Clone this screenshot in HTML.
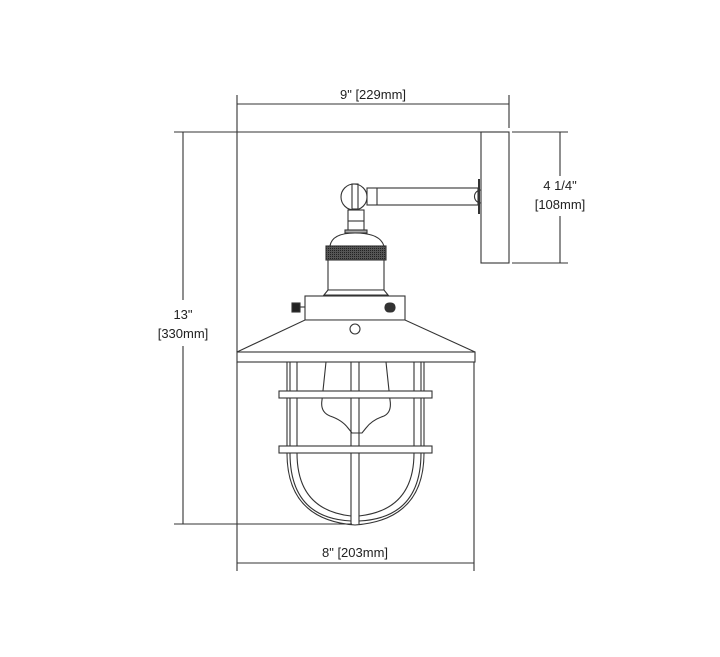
<!DOCTYPE html>
<html><head><style>body{margin:0;background:#fff}svg{display:block}text{font-family:"Liberation Sans",sans-serif;font-size:13px;fill:#222}</style></head>
<body>
<svg width="720" height="657" viewBox="0 0 720 657" xmlns="http://www.w3.org/2000/svg">
<defs><pattern id="kn" width="2" height="2" patternUnits="userSpaceOnUse"><rect width="2" height="2" fill="#555"/><rect width="1" height="1" fill="#222"/></pattern></defs>
<g stroke="#333" stroke-width="1.1" fill="none">
<!-- dimension lines -->
<line x1="237" y1="95" x2="237" y2="352"/>
<line x1="237" y1="362" x2="237" y2="571"/>
<line x1="509" y1="95" x2="509" y2="128"/>
<line x1="237" y1="104" x2="509" y2="104"/>
<line x1="174" y1="132" x2="485" y2="132"/>
<line x1="183" y1="132" x2="183" y2="300"/>
<line x1="183" y1="346" x2="183" y2="524"/>
<line x1="174" y1="524" x2="352" y2="524"/>
<line x1="512" y1="132" x2="568" y2="132"/>
<line x1="512" y1="263" x2="568" y2="263"/>
<line x1="560" y1="132" x2="560" y2="176"/>
<line x1="560" y1="216" x2="560" y2="263"/>
<line x1="474" y1="362" x2="474" y2="571"/>
<line x1="237" y1="563" x2="474" y2="563"/>
<!-- backplate -->
<rect x="481" y="132" width="28" height="131" fill="#fff"/>
<!-- arm -->
<rect x="367" y="188" width="111" height="17" fill="#fff"/>
<line x1="377" y1="188" x2="377" y2="205"/>
<path d="M481 190 A6 6 0 0 0 481 203" />
<line x1="479" y1="179" x2="479" y2="214" stroke-width="2"/>
<circle cx="354" cy="197" r="13" fill="#fff"/>
<rect x="352" y="184" width="6" height="25"/>
<rect x="348" y="210" width="16" height="22" fill="#fff"/>
<line x1="348" y1="221" x2="364" y2="221"/>
<rect x="345" y="230" width="22" height="3" fill="#aaa"/>
<!-- socket -->
<path d="M330 246 Q332 233 355 233 Q380 233 384 246Z" fill="#fff"/>
<rect x="326" y="246" width="60" height="14" fill="url(#kn)"/>
<rect x="328" y="260" width="56" height="30" fill="#fff"/>
<path d="M328 290 L324 295 L388 295 L384 290Z" fill="#fff"/>
<!-- collar -->
<rect x="305" y="296" width="100" height="24" fill="#fff"/>
<rect x="292" y="303" width="8" height="9" fill="#222"/>
<line x1="300" y1="307" x2="305" y2="307"/>
<rect x="385" y="303" width="10" height="9" rx="4" fill="#333"/>
<!-- shade -->
<path d="M305 320 L405 320 L475 352 L237 352Z" fill="#fff"/>
<rect x="237" y="352" width="238" height="10" fill="#fff"/>
<circle cx="355" cy="329" r="5"/>
<!-- bulb -->
<path d="M326 362 L322 400 Q320 412 330 416 Q342 420 348 428 L352 433 L362 433 L366 428 Q372 420 384 416 Q392 412 390 400 L386 362"/>
<!-- cage -->
<path d="M287 362 L287 453 Q287 520 355 525 Q424 520 424 453 L424 362"/>
<path d="M297 362 L297 453 Q297 510 351 516"/>
<path d="M414 362 L414 453 Q414 510 359 516"/>
<path d="M290 362 L290 453 Q290 518 351 521"/>
<path d="M421 362 L421 453 Q421 518 359 521"/>
<line x1="351" y1="362" x2="351" y2="524"/>
<line x1="359" y1="362" x2="359" y2="524"/>
<rect x="279" y="391" width="153" height="7" fill="#fff"/>
<rect x="279" y="446" width="153" height="7" fill="#fff"/>
</g>
<text x="373" y="99" text-anchor="middle">9" [229mm]</text>
<text x="183" y="319" text-anchor="middle">13"</text>
<text x="183" y="338" text-anchor="middle">[330mm]</text>
<text x="560" y="190" text-anchor="middle">4 1/4"</text>
<text x="560" y="209" text-anchor="middle">[108mm]</text>
<text x="355" y="557" text-anchor="middle">8" [203mm]</text>
</svg>
</body></html>
